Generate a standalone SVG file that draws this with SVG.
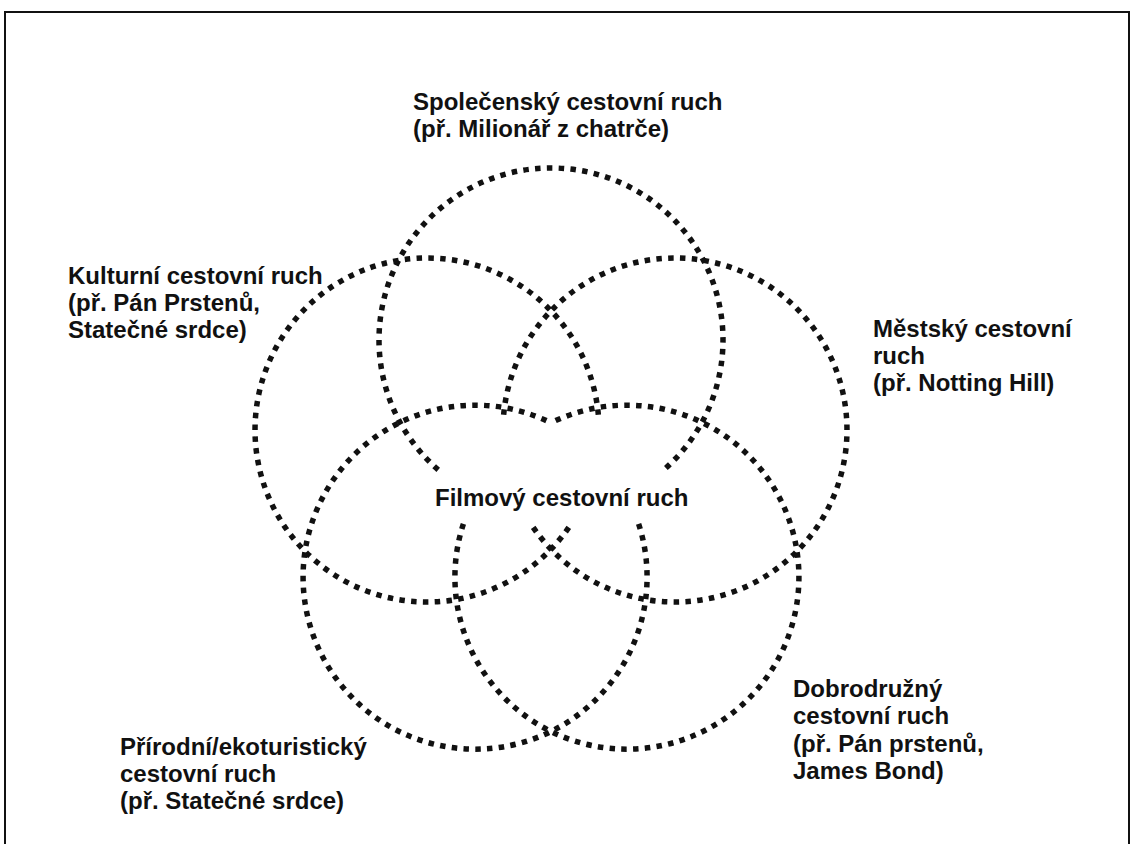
<svg xmlns="http://www.w3.org/2000/svg" width="1131" height="844" viewBox="0 0 1131 844">
  <style>
    .ring { fill: none; stroke: #111; stroke-width: 5.5; stroke-dasharray: 5.5 6.3; stroke-linecap: butt; }
    .lbl { font-family: "Liberation Sans", Arial, sans-serif; font-weight: bold; font-size: 24px; fill: #111; }
    .frame { fill: none; stroke: #111; stroke-width: 2; }
  </style>
  <rect x="0" y="0" width="1131" height="844" fill="#ffffff"/>
  <path class="frame" d="M 5 844 V 12 H 1129 V 844"/>

  <g id="spolecensky">
    <path class="ring" d="M 438.2 469.8 A 172 172 0 1 1 663.8 469.8"/>
    <text class="lbl" x="413" y="110">Společenský cestovní ruch</text>
    <text class="lbl" x="413" y="137">(př. Milionář z chatrče)</text>
  </g>

  <g id="kulturni">
    <path class="ring" d="M 568.8 527.4 A 172 172 0 1 1 598.6 418"/>
    <text class="lbl" x="68" y="284">Kulturní cestovní ruch</text>
    <text class="lbl" x="68" y="311">(př. Pán Prstenů,</text>
    <text class="lbl" x="68" y="338">Statečné srdce)</text>
  </g>

  <g id="mestsky">
    <path class="ring" d="M 533.2 527.4 A 172 172 0 1 0 503.4 418"/>
    <text class="lbl" x="873" y="337">Městský cestovní</text>
    <text class="lbl" x="873" y="364">ruch</text>
    <text class="lbl" x="873" y="391">(př. Notting Hill)</text>
  </g>

  <g id="prirodni">
    <path class="ring" d="M 638.6 523.8 A 172 172 0 1 1 551.2 422.9"/>
    <text class="lbl" x="120" y="755">Přírodní/ekoturistický</text>
    <text class="lbl" x="120" y="782">cestovní ruch</text>
    <text class="lbl" x="120" y="809">(př. Statečné srdce)</text>
  </g>

  <g id="dobrodruzny">
    <path class="ring" d="M 463.4 523.8 A 172 172 0 1 0 550.8 422.9"/>
    <text class="lbl" x="793" y="697">Dobrodružný</text>
    <text class="lbl" x="793" y="724">cestovní ruch</text>
    <text class="lbl" x="793" y="752">(př. Pán prstenů,</text>
    <text class="lbl" x="793" y="779">James Bond)</text>
  </g>

  <g id="filmovy">
    <text class="lbl" x="435" y="506">Filmový cestovní ruch</text>
  </g>

  <g id="connectors"></g>
</svg>
